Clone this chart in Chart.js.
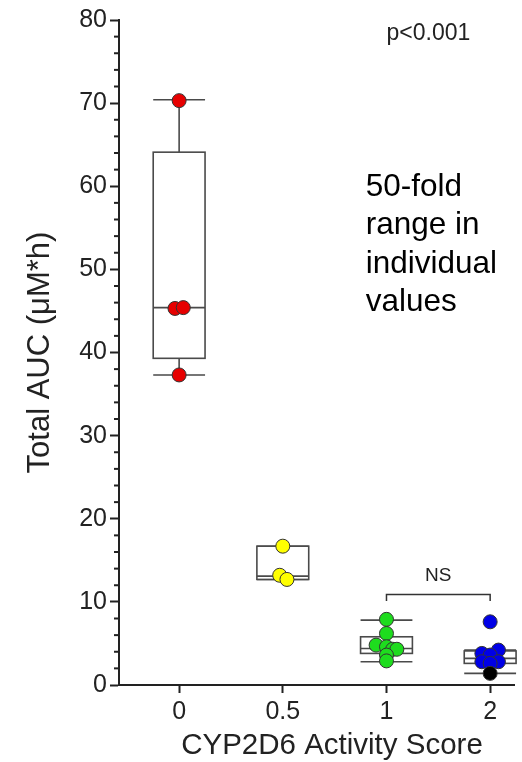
<!DOCTYPE html>
<html lang="en">
<head>
  <meta charset="UTF-8">
  <title>CYP2D6 Activity Score vs Total AUC</title>
  <style>
    body {
      margin: 0;
      background: #fff;
    }
    #chart-container {
      width: 522px;
      height: 762px;
    }
  </style>
</head>
<body>

<div id="chart-container">
  <canvas id="aucChart" width="522" height="762"></canvas>
</div>

<script src="https://cdn.jsdelivr.net/npm/chart.js"></script>
<script>
  // categories (activity score) and their positions on the x scale
  const categories = ['0', '0.5', '1', '2'];
  const xPositions = [0, 1, 2, 3];
  const yTickLabels = [0, 10, 20, 30, 40, 50, 60, 70, 80];

  // individual values per group
  const score0 = [70.3, 45.3, 45.4, 37.3];
  const score05 = [16.7, 13.2, 12.7];
  const score1 = [7.9, 6.2, 4.8, 4.6, 4.3, 4.3, 3.6, 2.9];
  const score2 = [7.6, 4.2, 3.8, 3.6, 2.8, 2.8, 2.6, 1.4];

  // horizontal scatter of the dots inside each group (category units)
  const jitter0 = [0, -0.04, 0.04, 0];
  const jitter05 = [0, -0.03, 0.04];
  const jitter1 = [0, 0, -0.1, 0, 0.06, 0.1, 0, 0];
  const jitter2 = [0, 0.08, -0.08, 0, -0.08, 0.08, 0, 0];

  // box plot stats per group
  const boxQ1 = [39.3, 12.7, 3.8, 2.6];
  const boxMedian = [45.4, 13.1, 4.4, 3.2];
  const boxQ3 = [64.1, 16.7, 5.8, 4.1];
  const whiskerLow = [37.3, 12.7, 2.8, 1.4];
  const whiskerHigh = [70.4, 16.7, 7.8, 4.2];

  const FONT = "'Liberation Sans', Arial, sans-serif";
  const INK = '#222';

  function toPoints(values, jitter, xPos) {
    return values.map((v, i) => ({ x: xPos + jitter[i], y: v }));
  }

  const boxPlugin = {
    id: 'boxes',
    beforeDatasetsDraw(chart) {
      const { ctx, scales: { x, y } } = chart;
      const half = 0.25;
      ctx.save();
      ctx.strokeStyle = '#4a4a4a';
      ctx.lineWidth = 1.6;
      xPositions.forEach((xp, i) => {
        const l = x.getPixelForValue(xp - half);
        const r = x.getPixelForValue(xp + half);
        const c = x.getPixelForValue(xp);
        const q1 = y.getPixelForValue(boxQ1[i]);
        const q3 = y.getPixelForValue(boxQ3[i]);
        const med = y.getPixelForValue(boxMedian[i]);
        const lo = y.getPixelForValue(whiskerLow[i]);
        const hi = y.getPixelForValue(whiskerHigh[i]);

        ctx.beginPath();
        ctx.moveTo(c, q3); ctx.lineTo(c, hi);
        ctx.moveTo(c, q1); ctx.lineTo(c, lo);
        ctx.moveTo(l, hi); ctx.lineTo(r, hi);
        ctx.moveTo(l, lo); ctx.lineTo(r, lo);
        ctx.stroke();

        ctx.fillStyle = '#fff';
        ctx.fillRect(l, q3, r - l, q1 - q3);
        ctx.strokeRect(l, q3, r - l, q1 - q3);

        ctx.beginPath();
        ctx.moveTo(l, med); ctx.lineTo(r, med);
        ctx.stroke();
      });
      ctx.restore();
    },
    afterDraw(chart) {
      const { ctx, scales: { x, y }, chartArea } = chart;
      ctx.save();

      // minor ticks on the y axis
      ctx.strokeStyle = INK;
      ctx.lineWidth = 2;
      y.ticks.forEach(t => {
        if (t.value % 10 !== 0) {
          const py = y.getPixelForValue(t.value);
          ctx.beginPath();
          ctx.moveTo(chartArea.left - 5, py);
          ctx.lineTo(chartArea.left, py);
          ctx.stroke();
        }
      });

      // NS bracket between score 1 and score 2
      ctx.strokeStyle = '#333';
      ctx.lineWidth = 1.5;
      const bl = x.getPixelForValue(2);
      const br = x.getPixelForValue(3);
      const by = y.getPixelForValue(10.9);
      const bd = y.getPixelForValue(10.1);
      ctx.beginPath();
      ctx.moveTo(bl, bd); ctx.lineTo(bl, by); ctx.lineTo(br, by); ctx.lineTo(br, bd);
      ctx.stroke();

      ctx.fillStyle = INK;
      ctx.textBaseline = 'middle';
      ctx.textAlign = 'center';
      ctx.font = '19px ' + FONT;
      ctx.fillText('NS', (bl + br) / 2, y.getPixelForValue(13.1));

      ctx.textAlign = 'left';
      ctx.font = '23px ' + FONT;
      ctx.fillText('p<0.001', x.getPixelForValue(2.0), y.getPixelForValue(78.4));

      ctx.fillStyle = '#000';
      ctx.font = '31.5px ' + FONT;
      const note = ['50-fold', 'range in', 'individual', 'values'];
      const ny = y.getPixelForValue(59.9);
      note.forEach((line, i) => {
        ctx.fillText(line, x.getPixelForValue(1.8), ny + i * 38.5);
      });

      // x axis title
      ctx.fillStyle = INK;
      ctx.textAlign = 'center';
      ctx.font = '29.5px ' + FONT;
      ctx.fillText('CYP2D6 Activity Score', 332, 746);

      ctx.restore();
    }
  };

  const dotStyle = {
    pointRadius: 7,
    pointHoverRadius: 7,
    pointBorderWidth: 1,
    pointBorderColor: '#333',
    showLine: false
  };

  const data = {
    datasets: [
      { ...dotStyle, label: categories[0], data: toPoints(score0, jitter0, xPositions[0]), pointBackgroundColor: '#e60000' },
      { ...dotStyle, label: categories[1], data: toPoints(score05, jitter05, xPositions[1]), pointBackgroundColor: '#ffff00' },
      { ...dotStyle, label: categories[2], data: toPoints(score1, jitter1, xPositions[2]), pointBackgroundColor: '#1edc1e' },
      {
        ...dotStyle, label: categories[3], data: toPoints(score2, jitter2, xPositions[3]),
        pointBackgroundColor: score2.map((v, i) => i === score2.length - 1 ? '#000' : '#0000e6')
      }
    ]
  };

  const config = {
    type: 'scatter',
    data: data,
    options: {
      responsive: false,
      animation: false,
      layout: { padding: { top: 20, right: 4, left: 0, bottom: 0 } },
      plugins: {
        legend: { display: false },
        tooltip: { enabled: false }
      },
      scales: {
        x: {
          type: 'linear',
          min: -0.58,
          max: 3.23,
          afterBuildTicks: s => { s.ticks = xPositions.map(v => ({ value: v })); },
          afterFit: s => { s.height = 77; },
          ticks: {
            autoSkip: false,
            maxRotation: 0,
            padding: 4,
            color: INK,
            font: { size: 25, family: FONT },
            callback: v => categories[xPositions.indexOf(v)] ?? ''
          },
          grid: { drawOnChartArea: false, tickLength: 8, tickWidth: 2, tickColor: INK },
          border: { color: INK, width: 2 }
        },
        y: {
          min: 0,
          max: 80,
          afterFit: s => { s.width = 119; },
          ticks: {
            stepSize: 2,
            autoSkip: false,
            padding: 3,
            color: INK,
            font: { size: 25, family: FONT },
            callback: v => yTickLabels.includes(v) ? v : ''
          },
          grid: {
            drawOnChartArea: false,
            tickLength: 9,
            tickWidth: 2,
            tickColor: c => (c.tick && c.tick.value % 10 === 0) ? INK : 'rgba(0,0,0,0)'
          },
          border: { color: INK, width: 2 },
          title: {
            display: true,
            text: 'Total AUC (μM*h)',
            color: INK,
            font: { size: 31, family: FONT },
            padding: { top: 22, bottom: 0 }
          }
        }
      }
    },
    plugins: [boxPlugin]
  };

  const ctx = document.getElementById('aucChart').getContext('2d');
  const aucChart = new Chart(ctx, config);
</script>

</body>
</html>
